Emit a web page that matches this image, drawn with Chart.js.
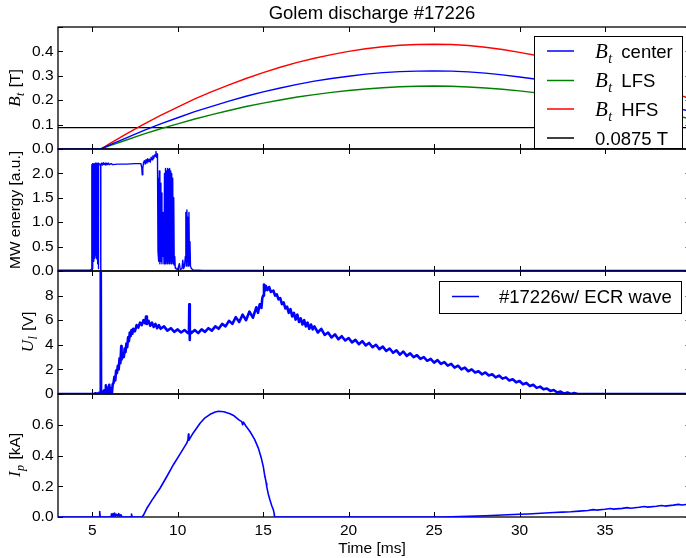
<!DOCTYPE html>
<html><head><meta charset="utf-8">
<script src="https://cdn.jsdelivr.net/npm/chart.js@4.4.1/dist/chart.umd.min.js"></script>
<style>
html,body{margin:0;padding:0;background:#fff;overflow:hidden;width:686px;height:558px}
#wrap{position:relative;width:686px;height:558px;overflow:hidden;background:#fff}
canvas{position:absolute;left:0}
</style></head><body>
<div id="wrap">
<canvas id="c1" width="700" height="180" style="top:0px"></canvas>
<canvas id="c2" width="700" height="182" style="top:119px"></canvas>
<canvas id="c3" width="700" height="183" style="top:241px"></canvas>
<canvas id="c4" width="700" height="194" style="top:364px"></canvas>
</div>
<script>
// ---------------- DATA ----------------
const chartTitle = 'Golem discharge #17226';
const xTicks = [5, 10, 15, 20, 25, 30, 35];
const xLabel = 'Time [ms]';

// Panel 1: toroidal field (T)
const btTime   = [3, 5.5, 6, 7, 8, 9, 10, 11, 12, 13, 14, 15, 16, 17, 18, 19, 20, 21, 22, 23, 24, 25, 26, 27, 28, 29, 30, 31, 32, 33, 34, 35, 36, 37, 38, 39, 40];
const btCenter = [0, 0, 0.016, 0.046, 0.075, 0.103, 0.128, 0.153, 0.175, 0.196, 0.216, 0.234, 0.250, 0.265, 0.278, 0.289, 0.298, 0.307, 0.313, 0.317, 0.319, 0.320, 0.319, 0.316, 0.311, 0.304, 0.295, 0.286, 0.274, 0.261, 0.247, 0.231, 0.219, 0.203, 0.187, 0.171, 0.154];
const btLFS    = [0, 0, 0.013, 0.037, 0.061, 0.083, 0.103, 0.123, 0.141, 0.158, 0.174, 0.188, 0.201, 0.213, 0.223, 0.232, 0.240, 0.246, 0.251, 0.255, 0.257, 0.258, 0.257, 0.254, 0.250, 0.245, 0.238, 0.230, 0.220, 0.210, 0.199, 0.186, 0.176, 0.163, 0.151, 0.138, 0.124];
const btHFS    = [0, 0, 0.021, 0.062, 0.101, 0.138, 0.172, 0.205, 0.235, 0.263, 0.289, 0.313, 0.335, 0.355, 0.372, 0.387, 0.400, 0.411, 0.419, 0.425, 0.428, 0.429, 0.428, 0.424, 0.417, 0.408, 0.396, 0.383, 0.367, 0.350, 0.331, 0.310, 0.293, 0.272, 0.251, 0.229, 0.206];
const ecrTime  = [3, 40];
const ecrLevel = [0.0875, 0.0875];
const btTicks  = [0, 0.1, 0.2, 0.3, 0.4, 0.5];
const legend1Labels = ['center', 'LFS', 'HFS', '0.0875 T'];

// Panel 2: MW energy [a.u.]  ([time, value])
const mwEnergy = [[3,0.015],[4.9,0.015],[4.96,0.04],[4.98,2.18],[5.0,0.05],[5.02,2.2],[5.04,0.12],[5.06,2.19],[5.08,0.2],[5.1,2.2],[5.12,0.26],[5.14,2.2],[5.16,0.3],[5.18,2.21],[5.2,0.33],[5.22,2.2],[5.24,0.3],[5.26,2.21],[5.28,0.25],[5.3,2.2],[5.32,0.15],[5.34,2.21],[5.36,0.05],[5.38,2.2],[5.45,2.19],[5.49,2.15],[5.5,-0.4],[5.51,2.18],[5.55,2.21],[5.6,2.17],[5.65,2.22],[5.7,2.18],[5.75,2.21],[5.8,2.17],[5.85,2.21],[5.9,2.18],[5.95,2.21],[6.0,2.18],[6.1,2.2],[6.2,2.18],[6.5,2.19],[7.0,2.19],[7.5,2.2],[7.85,2.2],[7.9,2.12],[7.93,1.97],[7.96,2.1],[8.0,2.22],[8.05,2.26],[8.1,2.19],[8.15,2.28],[8.2,2.21],[8.25,2.3],[8.3,2.24],[8.35,2.29],[8.4,2.23],[8.45,2.33],[8.5,2.28],[8.55,2.36],[8.6,2.31],[8.65,2.38],[8.7,2.35],[8.73,2.45],[8.76,2.33],[8.8,2.4],[8.82,2.3],[8.85,0.4],[8.88,1.9],[8.9,0.2],[8.93,2.05],[8.96,0.15],[8.99,1.8],[9.02,0.2],[9.05,1.6],[9.08,0.15],[9.11,1.2],[9.14,0.3],[9.17,0.9],[9.2,0.15],[9.23,2.0],[9.26,0.15],[9.29,2.1],[9.32,0.2],[9.35,2.05],[9.38,0.15],[9.41,2.1],[9.44,0.2],[9.47,2.08],[9.5,0.15],[9.53,2.1],[9.56,0.2],[9.59,2.05],[9.62,0.15],[9.65,2.0],[9.68,0.2],[9.71,1.9],[9.74,0.15],[9.77,1.5],[9.8,0.12],[9.83,0.3],[9.86,0.06],[9.9,0.05],[10.0,0.03],[10.1,0.15],[10.15,0.03],[10.25,0.05],[10.3,0.22],[10.35,0.05],[10.4,0.1],[10.45,0.3],[10.48,1.2],[10.51,0.1],[10.54,1.25],[10.57,0.2],[10.6,1.1],[10.63,0.1],[10.66,1.2],[10.69,0.15],[10.72,0.6],[10.75,0.1],[10.8,0.05],[10.9,0.02],[11.5,0.012],[40,0.012]];
const mwTicks = [0, 0.5, 1.0, 1.5, 2.0, 2.5];

// Panel 3: loop voltage U_l [V]
const loopVoltage = [[3,0],[5.1,0],[5.2,0.06],[5.3,0],[5.4,0.1],[5.48,0],[5.5,12],[5.52,0],[5.6,0.15],[5.65,0],[5.7,0.3],[5.75,0],[5.8,0.7],[5.85,0.1],[5.9,0.5],[5.95,0],[6.0,0.75],[6.05,0.1],[6.1,0.4],[6.15,0],[6.2,0.8],[6.25,0.9],[6.3,1.4],[6.35,1.1],[6.4,1.9],[6.45,1.7],[6.5,2.3],[6.55,2.0],[6.6,2.9],[6.65,2.5],[6.7,3.9],[6.72,2.8],[6.8,3.3],[6.85,3.0],[6.9,3.7],[6.95,3.4],[7.0,4.1],[7.05,3.8],[7.1,4.6],[7.15,4.3],[7.2,5.0],[7.25,4.7],[7.3,5.2],[7.35,4.9],[7.4,5.3],[7.5,5.1],[7.6,5.6],[7.7,5.4],[7.8,5.8],[7.9,5.6],[8.0,6.0],[8.1,5.75],[8.15,6.3],[8.2,5.7],[8.3,5.95],[8.4,5.55],[8.5,5.8],[8.6,5.45],[8.7,5.7],[8.8,5.35],[8.9,5.6],[9.0,5.3],[9.2,5.5],[9.4,5.15],[9.6,5.35],[9.8,5.05],[10.0,5.25],[10.2,5.0],[10.4,5.2],[10.6,4.95],[10.66,5.1],[10.68,7.3],[10.7,4.4],[10.72,5.2],[10.8,4.95],[11.0,5.2],[11.2,4.95],[11.4,5.25],[11.6,5.05],[11.8,5.35],[12.0,5.15],[12.2,5.5],[12.4,5.3],[12.6,5.7],[12.8,5.5],[13.0,5.95],[13.2,5.7],[13.4,6.25],[13.6,5.85],[13.8,6.45],[14.0,6.0],[14.2,6.7],[14.4,6.2],[14.6,7.05],[14.7,6.6],[14.8,7.3],[14.9,7.0],[14.95,7.8],[15.0,8.0],[15.05,8.9],[15.1,8.4],[15.15,8.8],[15.25,8.45],[15.35,8.7],[15.45,8.3],[15.6,8.4],[15.7,8.0],[15.8,8.1],[15.9,7.7],[16.0,7.8],[16.1,7.3],[16.2,7.45],[16.3,6.95],[16.4,7.1],[16.5,6.6],[16.6,6.9],[16.7,6.3],[16.8,6.6],[16.9,6.05],[17.0,6.45],[17.1,5.85],[17.2,6.15],[17.3,5.65],[17.4,6.0],[17.5,5.5],[17.6,5.8],[17.7,5.3],[17.8,5.65],[17.9,5.25],[18.0,5.5],[18.2,5.0],[18.4,5.3],[18.6,4.8],[18.8,5.0],[19.0,4.6],[19.2,4.85],[19.4,4.45],[19.6,4.7],[19.8,4.35],[20.0,4.55],[20.2,4.2],[20.4,4.4],[20.6,4.05],[20.8,4.3],[21.0,3.95],[21.2,4.15],[21.4,3.8],[21.6,4.0],[21.8,3.65],[22.0,3.85],[22.2,3.5],[22.4,3.7],[22.6,3.35],[22.8,3.55],[23.0,3.2],[23.2,3.45],[23.4,3.1],[23.6,3.3],[23.8,3.0],[24.0,3.15],[24.2,2.85],[24.4,3.0],[24.6,2.7],[24.8,2.85],[25.0,2.55],[25.2,2.75],[25.4,2.45],[25.6,2.6],[25.8,2.3],[26.0,2.45],[26.2,2.15],[26.4,2.3],[26.6,2.0],[26.8,2.15],[27.0,1.85],[27.2,2.0],[27.4,1.75],[27.6,1.85],[27.8,1.6],[28.0,1.75],[28.2,1.5],[28.4,1.6],[28.6,1.35],[28.8,1.5],[29.0,1.25],[29.2,1.35],[29.4,1.1],[29.6,1.2],[29.8,0.95],[30.0,1.05],[30.2,0.8],[30.4,0.9],[30.6,0.65],[30.8,0.75],[31.0,0.5],[31.2,0.6],[31.4,0.38],[31.6,0.45],[31.8,0.25],[32.0,0.32],[32.2,0.12],[32.4,0.2],[32.6,0.03],[32.8,0.12],[33.0,0],[33.2,0.08],[33.4,0],[40,0]];
const ulTicks = [0, 2, 4, 6, 8, 10];
const legend3Label = '#17226w/ ECR wave';

// Panel 4: plasma current I_p [kA]
const plasmaCurrent = [[3,0],[5.4,0],[5.44,0.035],[5.47,0],[6.1,0],[6.13,0.02],[6.17,0.003],[6.22,0.022],[6.27,0.004],[6.32,0.025],[6.37,0.005],[6.42,0.018],[6.5,0.006],[6.55,0.022],[6.62,0.004],[6.68,0.015],[6.75,0],[7.28,0],[7.3,0.02],[7.33,0],[7.9,0],[8.0,0.012],[8.19,0.055],[8.5,0.11],[8.97,0.187],[9.4,0.27],[9.75,0.34],[10.2,0.42],[10.53,0.48],[10.6,0.5],[10.63,0.54],[10.66,0.5],[10.9,0.545],[11.31,0.61],[11.6,0.645],[11.9,0.668],[12.2,0.683],[12.4,0.688],[12.7,0.685],[13.06,0.672],[13.3,0.658],[13.6,0.63],[13.75,0.62],[13.8,0.6],[13.85,0.617],[14.0,0.59],[14.23,0.556],[14.5,0.505],[14.72,0.448],[14.9,0.38],[15.01,0.328],[15.1,0.265],[15.15,0.24],[15.18,0.22],[15.21,0.198],[15.3,0.15],[15.4,0.11],[15.5,0.075],[15.6,0.046],[15.65,0.02],[15.66,0],[25.5,0],[27,0.004],[28,0.008],[29,0.013],[30,0.018],[30.5,0.02],[31,0.023],[31.5,0.026],[32,0.029],[32.5,0.032],[33,0.034],[33.5,0.038],[34,0.042],[34.3,0.048],[34.5,0.045],[35,0.05],[35.3,0.055],[35.5,0.051],[36,0.056],[36.3,0.061],[36.5,0.057],[37,0.063],[37.3,0.068],[37.5,0.064],[38,0.07],[38.3,0.075],[38.5,0.071],[39,0.077],[39.3,0.082],[39.5,0.078],[40,0.085]];
const ipTicks = [0, 0.2, 0.4, 0.6, 0.8];

// ---------------- RENDERING ----------------
const SANS = '"Liberation Sans", Arial, Helvetica, sans-serif';
const SERIF = '"Liberation Serif", "Times New Roman", serif';
const TICK_SIZE = 15.5;
Chart.defaults.font.family = SANS;
Chart.defaults.font.size = TICK_SIZE;
Chart.defaults.color = '#000';

const X_MIN = 3, X_MAX = 40;
const fromArrays = (ts, vs) => ts.map((t, i) => ({x: t, y: vs[i]}));
const fromPairs = p => p.map(q => ({x: q[0], y: q[1]}));
const line = (data, color, width) => ({data, borderColor: color, backgroundColor: color, borderWidth: width, showLine: true, pointRadius: 0, tension: 0, fill: false, borderJoinStyle: 'round'});

function richWidth(ctx, parts) {
  let w = 0;
  for (const p of parts) { ctx.font = p.font; w += ctx.measureText(p.t).width + (p.dx || 0); }
  return w;
}
function drawRich(ctx, parts, x, y) {
  ctx.textAlign = 'left'; ctx.textBaseline = 'alphabetic';
  let cx = x;
  for (const p of parts) {
    ctx.font = p.font;
    cx += (p.dx || 0);
    ctx.fillText(p.t, cx, y + (p.dy || 0));
    cx += ctx.measureText(p.t).width;
  }
}
function mathParts(sym, sub, rest, big, small, restFont, gap) {
  return [
    {t: sym, font: 'italic ' + big + 'px ' + SERIF},
    {t: sub, font: 'italic ' + small + 'px ' + SERIF, dy: Math.round(big * 0.22), dx: 0.5},
    {t: rest, font: restFont, dx: gap}
  ];
}

function makePanel(id, top, datasets, ticks, decimals, pad, bottomAxis, deco) {
  const yMax = ticks[ticks.length - 1];
  const plugin = {
    id: 'panelDeco_' + id,
    beforeDatasetsDraw(chart) {
      const {ctx, chartArea: a} = chart;
      const xs = chart.scales.x, ys = chart.scales.y;
      ctx.save();
      ctx.strokeStyle = '#000';
      ctx.lineWidth = 1.3;
      ctx.strokeRect(a.left, a.top, a.right - a.left, a.bottom - a.top);
      ctx.lineWidth = 1;
      ctx.beginPath();
      for (const v of xTicks) {
        const px = Math.round(xs.getPixelForValue(v)) + 0.5;
        ctx.moveTo(px, a.top); ctx.lineTo(px, a.top + 5);
        ctx.moveTo(px, a.bottom); ctx.lineTo(px, a.bottom - 5);
      }
      for (const v of ticks) {
        const py = Math.round(ys.getPixelForValue(v)) + 0.5;
        ctx.moveTo(a.left, py); ctx.lineTo(a.left + 5, py);
        ctx.moveTo(a.right, py); ctx.lineTo(a.right - 5, py);
      }
      ctx.stroke();
      ctx.restore();
    },
    afterDatasetsDraw(chart) {
      const ctx = chart.ctx;
      ctx.save();
      ctx.translate(0, -top);
      ctx.fillStyle = '#000';
      deco(ctx);
      ctx.restore();
    }
  };
  return new Chart(document.getElementById(id), {
    type: 'scatter',
    data: {datasets},
    options: {
      animation: false, responsive: false, devicePixelRatio: 1,
      layout: {padding: {top: pad[0], bottom: pad[1], left: 0, right: 9.5}},
      plugins: {legend: {display: false}, tooltip: {enabled: false}, title: {display: false}},
      scales: {
        x: {
          type: 'linear', min: X_MIN, max: X_MAX, display: bottomAxis,
          afterBuildTicks: s => { s.ticks = xTicks.map(v => ({value: v})); },
          afterFit: s => { s.height = bottomAxis ? 41 : 0; },
          grid: {display: false, drawTicks: false}, border: {display: false},
          ticks: {padding: 4, maxRotation: 0, autoSkip: false, color: '#000', font: {size: TICK_SIZE}, callback: v => String(v)}
        },
        y: {
          type: 'linear', min: ticks[0], max: yMax,
          afterBuildTicks: s => { s.ticks = ticks.map(v => ({value: v})); },
          afterFit: s => { s.width = 58; },
          grid: {display: false, drawTicks: false}, border: {display: false},
          ticks: {padding: 4.5, autoSkip: false, color: '#000', font: {size: TICK_SIZE},
            callback: v => (Math.abs(v - yMax) < 1e-9 ? '' : Number(v).toFixed(decimals))}
        }
      }
    },
    plugins: [plugin]
  });
}

function yLabel(ctx, parts, cx, cy) {
  ctx.save();
  ctx.translate(cx, cy);
  ctx.rotate(-Math.PI / 2);
  const w = richWidth(ctx, parts);
  drawRich(ctx, parts, -w / 2, 5);
  ctx.restore();
}
function legendBox(ctx, x0, y0, x1, y1) {
  ctx.fillStyle = '#fff';
  ctx.fillRect(x0, y0, x1 - x0, y1 - y0);
  ctx.strokeStyle = '#000'; ctx.lineWidth = 1;
  ctx.strokeRect(x0 + 0.5, y0 + 0.5, x1 - x0, y1 - y0);
  ctx.fillStyle = '#000';
}
function legendLine(ctx, color, x0, x1, y) {
  ctx.strokeStyle = color; ctx.lineWidth = 1.5;
  ctx.beginPath(); ctx.moveTo(x0, y); ctx.lineTo(x1, y); ctx.stroke();
  ctx.fillStyle = '#000';
}

const LFONT = '18.5px ' + SANS;
const AFONT = '15.5px ' + SANS;

// Panel 1
makePanel('c1', 0, [
  line(fromArrays(btTime, btCenter), '#0000ff', 1.4),
  line(fromArrays(btTime, btLFS), '#008000', 1.4),
  line(fromArrays(btTime, btHFS), '#ff0000', 1.4),
  line(fromArrays(ecrTime, ecrLevel), '#000000', 1.4)
], btTicks, 1, [27, 31], false, ctx => {
  ctx.font = '18.5px ' + SANS; ctx.textAlign = 'center'; ctx.textBaseline = 'middle';
  ctx.fillText(chartTitle, 372, 14);
  yLabel(ctx, mathParts('B', 't', ' [T]', 17, 12, AFONT, 1), 15, 88);
  legendBox(ctx, 534, 36, 682, 148);
  const cols = ['#0000ff', '#008000', '#ff0000', '#000000'];
  const rows = [51, 80.5, 109, 138];
  for (let i = 0; i < 4; i++) {
    legendLine(ctx, cols[i], 547, 574, rows[i]);
    if (i < 3) drawRich(ctx, mathParts('B', 't', ' ' + legend1Labels[i], 21, 14, LFONT, 4), 595, rows[i] + 6.5);
    else drawRich(ctx, [{t: legend1Labels[i], font: LFONT}], 595, rows[i] + 6.5);
  }
});

// Panel 2
makePanel('c2', 119, [line(fromPairs(mwEnergy), '#0000ff', 1.4)], mwTicks, 1, [30, 30], false, ctx => {
  yLabel(ctx, [{t: 'MW energy [a.u.]', font: AFONT}], 15, 210);
});

// Panel 3
makePanel('c3', 241, [line(fromPairs(loopVoltage), '#0000ff', 2.6)], ulTicks, 0, [30, 30], false, ctx => {
  yLabel(ctx, mathParts('U', 'l', ' [V]', 17, 12, AFONT, 1), 28, 332);
  legendBox(ctx, 439, 281, 681, 313);
  legendLine(ctx, '#0000ff', 452, 479, 296.5);
  drawRich(ctx, [{t: legend3Label, font: LFONT}], 499, 303);
});

// Panel 4
makePanel('c4', 364, [line(fromPairs(plasmaCurrent), '#0000ff', 1.6)], ipTicks, 1, [30, 0], true, ctx => {
  yLabel(ctx, mathParts('I', 'p', ' [kA]', 17, 12, AFONT, 1), 15, 455);
  ctx.font = AFONT; ctx.textAlign = 'center'; ctx.textBaseline = 'middle';
  ctx.fillText(xLabel, 372, 549);
});
</script>
</body></html>
